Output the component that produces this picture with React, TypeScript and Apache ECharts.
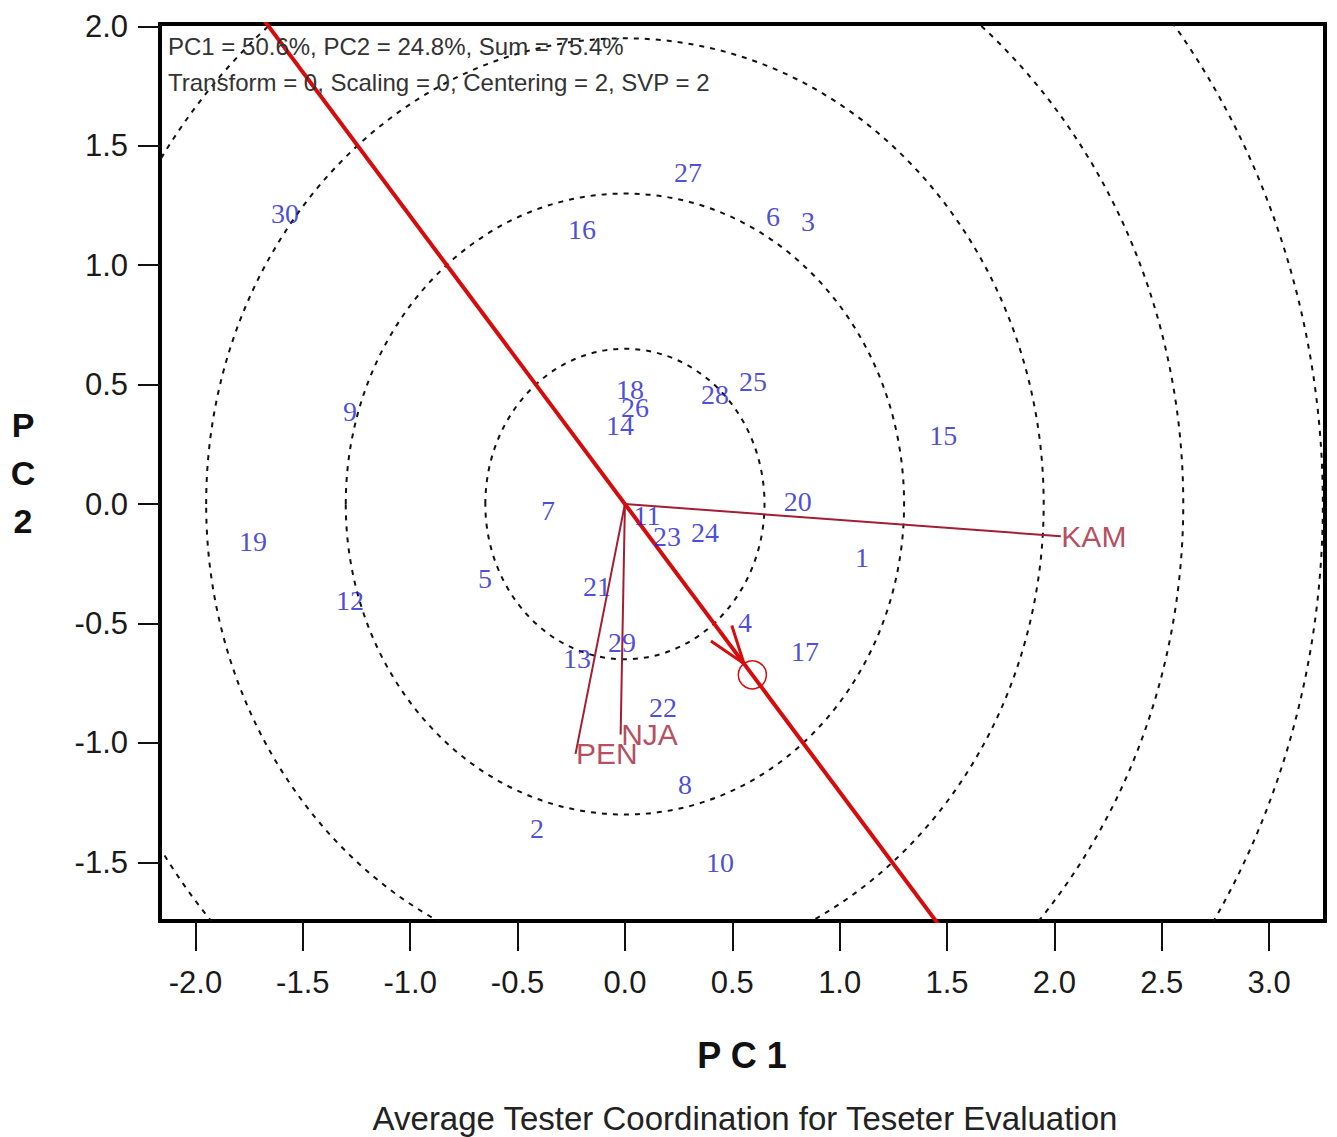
import React, { useEffect, useRef } from "react";
import * as echarts from "echarts";

// ---- Data ----
const genotypeNames = ["1","2","3","4","5","6","7","8","9","10","11","12","13","14","15","16","17","18","19","20","21","22","23","24","25","26","27","28","29","30"];
const genotypePC1 = [1.104,-0.409,0.853,0.559,-0.652,0.690,-0.358,0.280,-1.280,0.443,0.103,-1.280,-0.223,-0.023,1.482,-0.200,0.839,0.024,-1.732,0.805,-0.130,0.177,0.196,0.373,0.596,0.047,0.294,0.420,-0.014,-1.583];
const genotypePC2 = [-0.222,-1.357,1.185,-0.494,-0.310,1.206,-0.029,-1.174,0.386,-1.502,-0.046,-0.406,-0.645,0.327,0.285,1.148,-0.619,0.478,-0.155,0.009,-0.347,-0.853,-0.138,-0.121,0.511,0.403,1.390,0.457,-0.581,1.218];

const envNames = ["KAM", "NJA", "PEN"];
const envPC1 = [2.03, -0.02, -0.23];
const envPC2 = [-0.135, -0.965, -1.046];

const circleRadii = [0.65, 1.3, 1.95, 2.6, 3.25];

const xTicks = [-2, -1.5, -1, -0.5, 0, 0.5, 1, 1.5, 2, 2.5, 3];
const yTicks = [-1.5, -1, -0.5, 0, 0.5, 1, 1.5, 2];
const xRange = [-2.165, 3.26];
const yRange = [-1.746, 2.01];

const annotationLines = [
  "PC1 = 50.6%, PC2 = 24.8%, Sum = 75.4%",
  "Transform = 0, Scaling = 0, Centering = 2, SVP = 2",
];
const xAxisTitle = "P C 1";
const yAxisTitle = "P\nC\n2";
const chartTitle = "Average Tester Coordination for Teseter Evaluation";

const SANS = "'Liberation Sans', Arial, Helvetica, sans-serif";
const SERIF = "'Liberation Serif', 'Times New Roman', serif";
const BLUE = "#2020cc";
const ENV_RED = "#a31d35";
const AXIS_RED = "#d40c0c";

export default function App() {
  const ref = useRef<HTMLDivElement>(null);

  useEffect(() => {
    if (!ref.current) return;
    const chart = echarts.init(ref.current, undefined, { renderer: "svg" });

    // average environment = mean of environment vectors
    const aecX = envPC1.reduce((a, b) => a + b, 0) / envPC1.length;
    const aecY = envPC2.reduce((a, b) => a + b, 0) / envPC2.length;
    const k = 5;

    const envLineSeries = envNames.map((n, i) => ({
      type: "line",
      name: n,
      data: [[0, 0], [envPC1[i], envPC2[i]]],
      symbol: "none",
      lineStyle: { color: ENV_RED, width: 2 },
      z: 4,
      silent: true,
    }));

    const option: any = {
      animation: false,
      backgroundColor: "#ffffff",
      grid: {
        left: 160,
        right: 12,
        top: 24,
        bottom: 216,
        show: true,
        borderColor: "#000",
        borderWidth: 4,
        backgroundColor: "#fff",
        containLabel: false,
      },
      xAxis: {
        type: "value",
        min: xRange[0],
        max: xRange[1],
        axisLine: { show: false, onZero: false },
        splitLine: { show: false },
        axisTick: {
          show: true,
          inside: false,
          length: 30,
          lineStyle: { color: "#111", width: 2 },
          customValues: xTicks,
        },
        axisLabel: {
          customValues: xTicks,
          formatter: (v: number) => v.toFixed(1),
          fontFamily: SANS,
          fontSize: 31,
          color: "#1a1a1a",
          margin: 46,
        },
      },
      yAxis: {
        type: "value",
        min: yRange[0],
        max: yRange[1],
        axisLine: { show: false, onZero: false },
        splitLine: { show: false },
        axisTick: {
          show: true,
          inside: false,
          length: 22,
          lineStyle: { color: "#111", width: 2 },
          customValues: yTicks,
        },
        axisLabel: {
          customValues: yTicks,
          formatter: (v: number) => v.toFixed(1),
          fontFamily: SANS,
          fontSize: 31,
          color: "#1a1a1a",
          margin: 32,
        },
      },
      graphic: [
        {
          type: "text",
          x: 168,
          y: 46,
          z: 50,
          style: { text: annotationLines[0], fontFamily: SANS, fontSize: 24, fill: "#333", align: "left", verticalAlign: "middle" },
        },
        {
          type: "text",
          x: 168,
          y: 82,
          z: 50,
          style: { text: annotationLines[1], fontFamily: SANS, fontSize: 24, fill: "#333", align: "left", verticalAlign: "middle" },
        },
        {
          type: "text",
          x: 23,
          y: 473,
          style: { text: yAxisTitle, fontFamily: SANS, fontSize: 34, fontWeight: "bold", lineHeight: 48, fill: "#111", align: "center", verticalAlign: "middle" },
        },
        {
          type: "text",
          x: 742,
          y: 1055,
          style: { text: xAxisTitle, fontFamily: SANS, fontSize: 36, fontWeight: "bold", fill: "#111", align: "center", verticalAlign: "middle" },
        },
        {
          type: "text",
          x: 745,
          y: 1118,
          style: { text: chartTitle, fontFamily: SANS, fontSize: 33, fill: "#222", align: "center", verticalAlign: "middle" },
        },
      ],
      series: [
        {
          type: "custom",
          coordinateSystem: "cartesian2d",
          clip: true,
          silent: true,
          z: 1,
          data: circleRadii.map((r) => [0, 0, r]),
          encode: { x: 0, y: 1 },
          renderItem: (_p: any, api: any) => {
            const c = api.coord([api.value(0), api.value(1)]);
            const s = api.size([api.value(2), api.value(2)]);
            return {
              type: "ellipse",
              shape: { cx: c[0], cy: c[1], rx: s[0], ry: s[1] },
              style: { fill: "none", stroke: "#111", lineWidth: 2, lineDash: [5, 6] },
            };
          },
        },
        {
          type: "line",
          name: "AEA",
          data: [[-k * aecX, -k * aecY], [k * aecX, k * aecY]],
          symbol: "none",
          clip: true,
          lineStyle: { color: AXIS_RED, width: 4 },
          z: 5,
          silent: true,
        },
        ...envLineSeries,
        {
          type: "custom",
          coordinateSystem: "cartesian2d",
          silent: true,
          z: 6,
          data: [[aecX, aecY]],
          encode: { x: 0, y: 1 },
          renderItem: (_p: any, api: any) => {
            const p = api.coord([api.value(0), api.value(1)]);
            const o = api.coord([0, 0]);
            const dx = p[0] - o[0];
            const dy = p[1] - o[1];
            const len = Math.hypot(dx, dy);
            const ux = dx / len;
            const uy = dy / len;
            const R = 14;
            const tip = [p[0] - ux * R, p[1] - uy * R];
            const L = 40;
            const a = (19 * Math.PI) / 180;
            const rot = (ang: number) => [ux * Math.cos(ang) - uy * Math.sin(ang), ux * Math.sin(ang) + uy * Math.cos(ang)];
            const b1 = rot(a);
            const b2 = rot(-a);
            return {
              type: "group",
              children: [
                { type: "circle", shape: { cx: p[0], cy: p[1], r: R }, style: { fill: "none", stroke: AXIS_RED, lineWidth: 1.5 } },
                {
                  type: "polyline",
                  shape: { points: [[tip[0] - b1[0] * L, tip[1] - b1[1] * L], tip, [tip[0] - b2[0] * L, tip[1] - b2[1] * L]] },
                  style: { fill: "none", stroke: AXIS_RED, lineWidth: 3 },
                },
              ],
            };
          },
        },
        {
          type: "scatter",
          name: "Environments",
          data: envNames.map((n, i) => [envPC1[i], envPC2[i], n]),
          symbolSize: 1,
          itemStyle: { color: "rgba(0,0,0,0)" },
          z: 8,
          silent: true,
          label: {
            show: true,
            position: "right",
            distance: 0,
            formatter: (p: any) => p.value[2],
            fontFamily: SANS,
            fontSize: 30,
            color: ENV_RED,
          },
        },
        {
          type: "scatter",
          name: "Genotypes",
          data: genotypeNames.map((n, i) => [genotypePC1[i], genotypePC2[i], n]),
          symbolSize: 1,
          itemStyle: { color: "rgba(0,0,0,0)" },
          z: 9,
          silent: true,
          label: {
            show: true,
            position: "inside",
            formatter: (p: any) => p.value[2],
            fontFamily: SERIF,
            fontSize: 28,
            color: BLUE,
          },
        },
      ],
    };

    chart.setOption(option);
    return () => chart.dispose();
  }, []);

  return (
    <div
      ref={ref}
      style={{ position: "absolute", left: 0, top: 0, width: 1337, height: 1137, background: "#fff" }}
    />
  );
}
